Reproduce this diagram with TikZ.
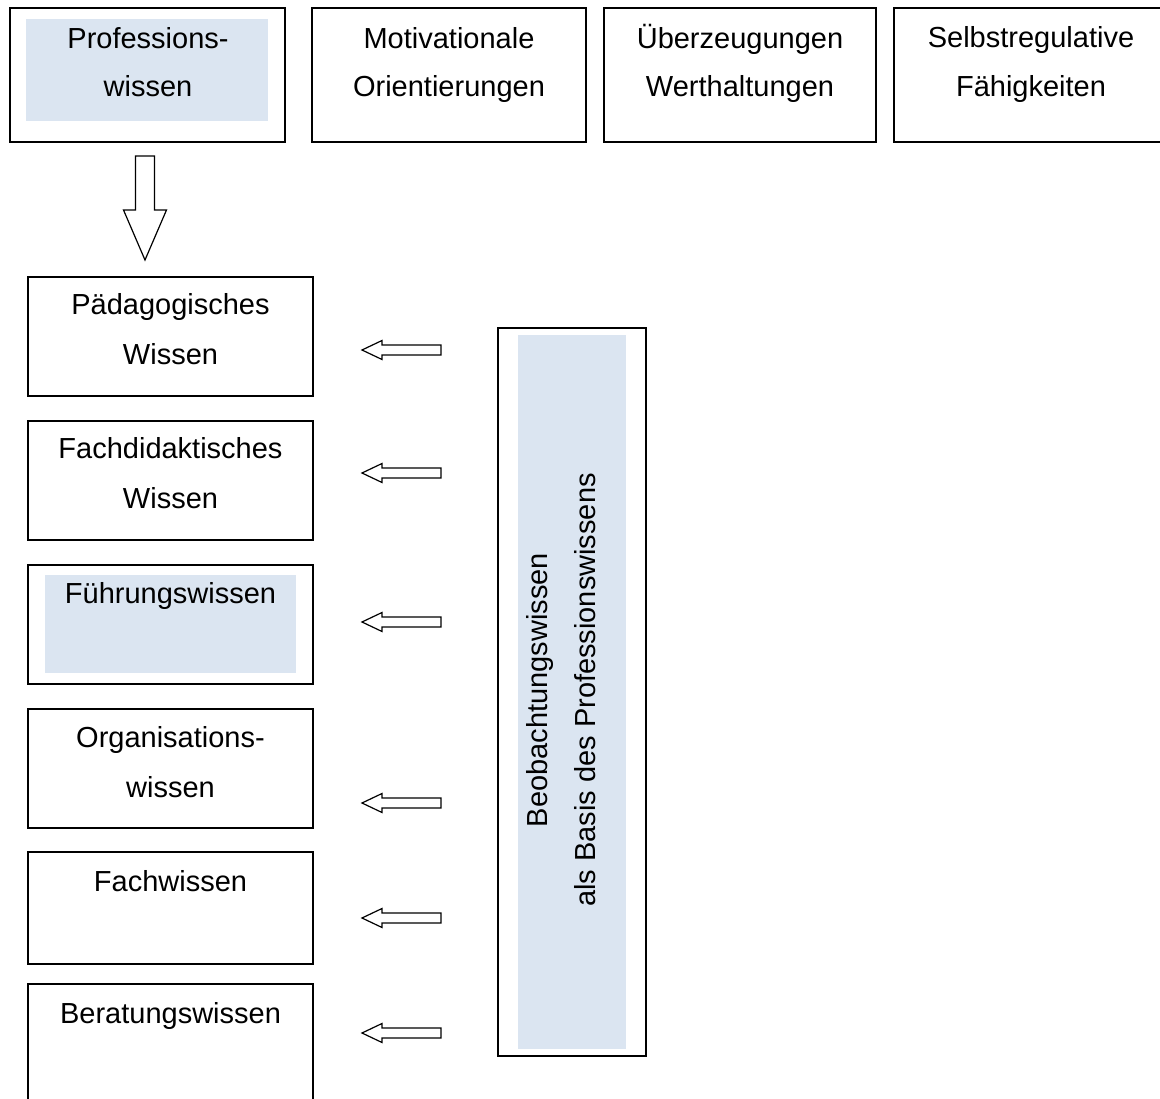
\documentclass[tikz,border=0pt]{standalone}
\usepackage{fontspec}
\setmainfont{Liberation Sans}
\definecolor{lightblue}{HTML}{DBE5F1}
\begin{document}
\begin{tikzpicture}[x=1pt,y=-1pt,
  box/.style={draw, line width=1.4pt, inner sep=0pt, outer sep=0pt, anchor=north west},
  shadefill/.style={fill=lightblue},
  lbl/.style={anchor=base, inner sep=0pt, outer sep=0pt, font=\fontsize{29}{29}\selectfont},
  blockarrow/.style={draw, line width=1.2pt, fill=white, line join=miter}]
\clip (0,0) rectangle (1160,1099);
\fill[white] (0,0) rectangle (1160,1099);
% shaded areas
\fill[shadefill] (26,19) rectangle (268,121);
\fill[shadefill] (45,575) rectangle (296,673);
\fill[shadefill] (518,335) rectangle (626,1049);
% boxes
\node[box, minimum width=275pt, minimum height=134pt] (prof) at (10,8) {};
\node[box, minimum width=274pt, minimum height=134pt] (motiv) at (312,8) {};
\node[box, minimum width=272pt, minimum height=134pt] (ueber) at (604,8) {};
\node[box, minimum width=276pt, minimum height=134pt] (selbst) at (894,8) {};
\node[box, minimum width=285pt, minimum height=119pt] (paed) at (28,277) {};
\node[box, minimum width=285pt, minimum height=119pt] (fdid) at (28,421) {};
\node[box, minimum width=285pt, minimum height=119pt] (fuehr) at (28,565) {};
\node[box, minimum width=285pt, minimum height=119pt] (orga) at (28,709) {};
\node[box, minimum width=285pt, minimum height=112pt] (fach) at (28,852) {};
\node[box, minimum width=285pt, minimum height=140pt] (berat) at (28,984) {};
\node[box, minimum width=148pt, minimum height=728pt] (beob) at (498,328) {};
% texts
\node[lbl] (t1a) at (148,49) {Professions-};
\node[lbl] (t1b) at (148,97) {wissen};
\node[lbl] (t2a) at (449,49) {Motivationale};
\node[lbl] (t2b) at (449,97) {Orientierungen};
\node[lbl] (t3a) at (740,49) {Überzeugungen};
\node[lbl] (t3b) at (740,97) {Werthaltungen};
\node[lbl] (t4a) at (1031,48) {Selbstregulative};
\node[lbl] (t4b) at (1031,97) {Fähigkeiten};
\node[lbl] (t5a) at (170.5,315) {Pädagogisches};
\node[lbl] (t5b) at (170.5,365) {Wissen};
\node[lbl] (t6a) at (170.5,458) {Fachdidaktisches};
\node[lbl] (t6b) at (170.5,508) {Wissen};
\node[lbl] (t7) at (170.5,603) {Führungswissen};
\node[lbl] (t8a) at (170.5,747) {Organisations-};
\node[lbl] (t8b) at (170.5,797) {wissen};
\node[lbl] (t9) at (170.5,891) {Fachwissen};
\node[lbl] (t10) at (170.5,1023) {Beratungswissen};
\node[lbl, rotate=90] (tb1) at (547,690) {Beobachtungswissen};
\node[lbl, rotate=90] (tb2) at (595,690) {als Basis des Professionswissens};
% big down arrow
\draw[blockarrow] (135.5,156) -- (154.5,156) -- (154.5,210) -- (166.5,210) -- (145,260)
  -- (123.5,210) -- (135.5,210) -- cycle;
% small left arrows
\foreach \c in {350,473,622,803,918,1033}{
  \draw[blockarrow] (362,\c) -- (382,\c-9.5) -- (382,\c-5) -- (441,\c-5) -- (441,\c+5)
    -- (382,\c+5) -- (382,\c+9.5) -- cycle;
}
\end{tikzpicture}
\end{document}
